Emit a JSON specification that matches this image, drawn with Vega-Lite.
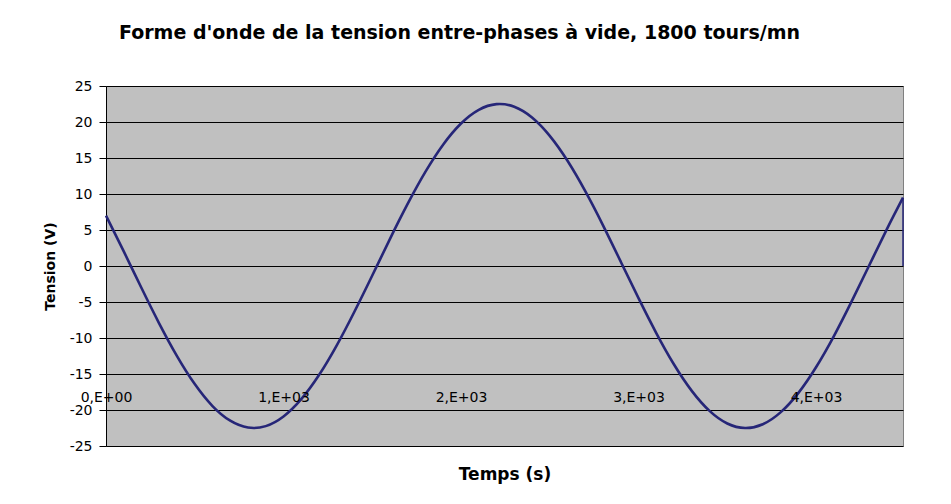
{
  "$schema": "https://vega.github.io/schema/vega-lite/v6.json",
  "width": 797,
  "height": 360,
  "autosize": "none",
  "padding": {"left": 106, "top": 86, "right": 48, "bottom": 58},
  "background": "white",
  "config": {
    "view": {"fill": "#C0C0C0", "stroke": "#808080", "strokeWidth": 1},
    "font": "DejaVu Sans"
  },
  "title": {
    "text": "Forme d'onde de la tension entre-phases à vide, 1800 tours/mn",
    "font": "DejaVu Sans",
    "fontSize": 19,
    "fontWeight": "bold",
    "color": "#000000",
    "anchor": "middle",
    "dx": -45,
    "offset": 36
  },
  "datasets": {
    "wave": [
      {"t": 0, "v": 6.99}, {"t": 100, "v": 2.03}, {"t": 200, "v": -3.06}, {"t": 300, "v": -7.99},
      {"t": 400, "v": -12.51}, {"t": 500, "v": -16.40}, {"t": 600, "v": -19.45}, {"t": 700, "v": -21.49},
      {"t": 800, "v": -22.44}, {"t": 900, "v": -22.24}, {"t": 1000, "v": -20.90}, {"t": 1100, "v": -18.50},
      {"t": 1200, "v": -15.15}, {"t": 1300, "v": -11.02}, {"t": 1400, "v": -6.32}, {"t": 1500, "v": -1.32},
      {"t": 1600, "v": 3.77}, {"t": 1700, "v": 8.65}, {"t": 1800, "v": 13.10}, {"t": 1900, "v": 16.88},
      {"t": 2000, "v": 19.79}, {"t": 2100, "v": 21.69}, {"t": 2200, "v": 22.48}, {"t": 2300, "v": 22.12},
      {"t": 2400, "v": 20.63}, {"t": 2500, "v": 18.08}, {"t": 2600, "v": 14.61}, {"t": 2700, "v": 10.39},
      {"t": 2800, "v": 5.65}, {"t": 2900, "v": 0.60}, {"t": 3000, "v": -4.47}, {"t": 3100, "v": -9.31},
      {"t": 3200, "v": -13.68}, {"t": 3300, "v": -17.34}, {"t": 3400, "v": -20.12}, {"t": 3500, "v": -21.87},
      {"t": 3600, "v": -22.50}, {"t": 3700, "v": -21.98}, {"t": 3800, "v": -20.33}, {"t": 3900, "v": -17.65},
      {"t": 4000, "v": -14.06}, {"t": 4100, "v": -9.76}, {"t": 4200, "v": -4.95}, {"t": 4300, "v": 0.11},
      {"t": 4400, "v": 5.16}, {"t": 4490, "v": 9.49}
    ],
    "drop": [{"t": 4490, "v": 9.49, "v0": 0}]
  },
  "layer": [
    {
      "data": {"name": "wave"},
      "mark": {"type": "line", "interpolate": "natural", "color": "#262678", "strokeWidth": 2.6},
      "encoding": {
        "x": {
          "field": "t",
          "type": "quantitative",
          "scale": {"domain": [0, 4490], "nice": false, "zero": false},
          "axis": {
            "title": "Temps (s)",
            "values": [0, 1000, 2000, 3000, 4000],
            "tickCount": 20,
            "labelExpr": "datum.value == 0 ? '0,E+00' : floor(datum.value / 1000) + ',E+03'",
            "domain": false,
            "ticks": false,
            "grid": false,
            "offset": -58,
            "labelPadding": 2,
            "labelFont": "DejaVu Sans",
            "labelFontSize": 14,
            "labelColor": "#000000",
            "labelFlush": false,
            "labelOverlap": false,
            "titleFont": "DejaVu Sans",
            "titleFontSize": 17,
            "titleFontWeight": "bold",
            "titleColor": "#000000",
            "titlePadding": 62,
            "zindex": 1
          }
        },
        "y": {
          "field": "v",
          "type": "quantitative",
          "scale": {"domain": [-25, 25], "nice": false},
          "axis": {
            "title": "Tension (V)",
            "values": [-25, -20, -15, -10, -5, 0, 5, 10, 15, 20, 25],
            "tickCount": 20,
            "labelExpr": "'' + datum.value",
            "labelOverlap": false,
            "grid": true,
            "gridColor": "#000000",
            "gridOpacity": 1,
            "gridWidth": 1,
            "domain": true,
            "domainColor": "#000000",
            "ticks": true,
            "tickColor": "#000000",
            "tickSize": 7,
            "labelPadding": 7,
            "labelFont": "DejaVu Sans",
            "labelFontSize": 14,
            "labelColor": "#000000",
            "titleFont": "DejaVu Sans",
            "titleFontSize": 14,
            "titleFontWeight": "bold",
            "titleColor": "#000000",
            "titlePadding": 12
          }
        }
      }
    },
    {
      "data": {"name": "drop"},
      "mark": {"type": "rule", "color": "#262678", "strokeWidth": 1.5},
      "encoding": {
        "x": {"field": "t", "type": "quantitative"},
        "y": {"field": "v", "type": "quantitative"},
        "y2": {"field": "v0"}
      }
    }
  ]
}
